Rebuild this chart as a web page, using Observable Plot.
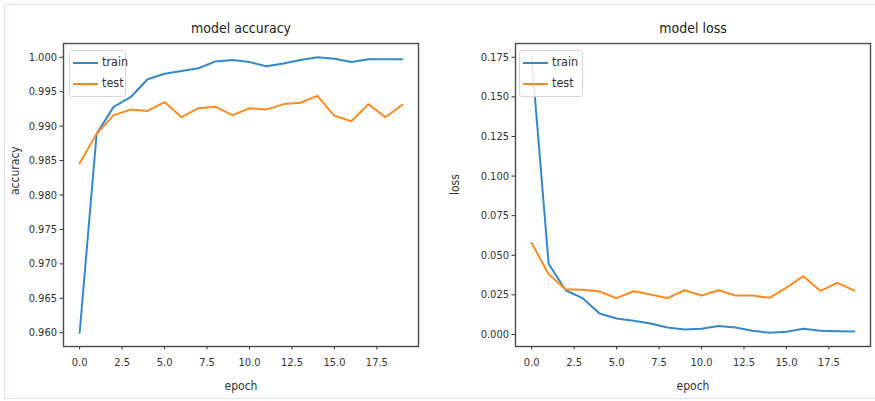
<!DOCTYPE html>
<html>
<head>
<meta charset="utf-8">
<script src="https://cdn.jsdelivr.net/npm/d3@7"></script>
<script src="https://cdn.jsdelivr.net/npm/@observablehq/plot@0.6"></script>
<style>
  html, body { margin: 0; padding: 0; background: #fff; }
  #wrap { position: relative; width: 875px; height: 401px; overflow: hidden;
          font-family: "DejaVu Sans Condensed", "DejaVu Sans", sans-serif; }
  #border { position: absolute; left: 4px; top: 4px; width: 880px; height: 395px;
            border: 1.5px solid #dbe3f4; box-sizing: border-box; }
  .panel { position: absolute; top: 0; }
  .legend { position: absolute; background: rgba(255,255,255,0.85); border: 1px solid #d6d6d6;
            border-radius: 3px; font-size: 12.5px; color: #333; padding: 0; box-sizing: border-box; }
  .legend .item { position: absolute; left: 0; height: 14px; line-height: 14px; white-space: nowrap; }
  .legend .sw { position: absolute; top: 6px; height: 2px; width: 25px; }
  .legend .lb { position: absolute; left: 32px; top: -1px; }
</style>
</head>
<body>
<div id="wrap">
  <div id="border"></div>
</div>
<script>
const epochs = d3.range(20);
const accTrain = [0.9600, 0.9889, 0.9928, 0.9942, 0.9968, 0.9976, 0.9980, 0.9984, 0.9994, 0.9996,
                  0.9993, 0.9987, 0.9991, 0.9996, 1.0000, 0.9998, 0.9993, 0.9997, 0.9997, 0.9997];
const accTest  = [0.9846, 0.9889, 0.9916, 0.9924, 0.9922, 0.9935, 0.9913, 0.9926, 0.9928, 0.9916,
                  0.9926, 0.9924, 0.9932, 0.9934, 0.9944, 0.9915, 0.9907, 0.9932, 0.9913, 0.9931];
const lossTrain = [0.1750, 0.0447, 0.0279, 0.0229, 0.0132, 0.0101, 0.0086, 0.0069, 0.0044, 0.0032,
                   0.0036, 0.0053, 0.0044, 0.0023, 0.0011, 0.0017, 0.0036, 0.0023, 0.0021, 0.0019];
const lossTest  = [0.0578, 0.0380, 0.0286, 0.0282, 0.0271, 0.0229, 0.0273, 0.0252, 0.0229, 0.0279,
                   0.0246, 0.0279, 0.0246, 0.0246, 0.0231, 0.0296, 0.0368, 0.0275, 0.0326, 0.0277];
const xTicks = [0, 2.5, 5, 7.5, 10, 12.5, 15, 17.5];
const accTicks = [0.960, 0.965, 0.970, 0.975, 0.980, 0.985, 0.990, 0.995, 1.000];
const lossTicks = [0, 0.025, 0.05, 0.075, 0.1, 0.125, 0.15, 0.175];
const seriesNames = ["train", "test"];
const colors = ["#3488c8", "#ff8a20"];

function pad(vals) {
  const lo = d3.min(vals), hi = d3.max(vals), m = (hi - lo) * 0.05;
  return [lo - m, hi + m];
}

function panel({left, width, ml, mr, title, ylabel, train, test, yTicks}) {
  const rows = [];
  epochs.forEach((e, i) => {
    rows.push({epoch: e, value: train[i], series: "train"});
    rows.push({epoch: e, value: test[i], series: "test"});
  });
  const plot = Plot.plot({
    width, height: 401,
    marginLeft: ml, marginRight: mr, marginTop: 43, marginBottom: 55,
    style: {fontFamily: '"DejaVu Sans Condensed", "DejaVu Sans", sans-serif', fontSize: "11px", color: "#333", background: "transparent"},
    x: {domain: pad(epochs), ticks: xTicks, tickFormat: d3.format(".1f"), tickSize: 3.5, tickPadding: 8, label: null},
    y: {domain: pad([...train, ...test]), ticks: yTicks, tickFormat: d3.format(".3f"), tickSize: 3.5, tickPadding: 3, label: null},
    color: {domain: seriesNames, range: colors},
    marks: [
      Plot.line(rows, {x: "epoch", y: "value", z: "series", stroke: "series", strokeWidth: 2}),
      Plot.frame({stroke: "#4a4a4a", strokeWidth: 1.4}),
      Plot.text([title], {frameAnchor: "top", dy: -20, fontSize: 14, fill: "#222"}),
      Plot.text(["epoch"], {frameAnchor: "bottom", dy: 43, fontSize: 12, fill: "#333"}),
      Plot.text([ylabel], {frameAnchor: "left", dx: -(ml - 15), rotate: -90, fontSize: 12, fill: "#333"})
    ]
  });
  const div = document.createElement("div");
  div.className = "panel";
  div.style.left = left + "px";
  div.appendChild(plot);
  document.getElementById("wrap").appendChild(div);
}

function legend(left, top, w) {
  const lg = document.createElement("div");
  lg.className = "legend";
  Object.assign(lg.style, {left: left + "px", top: top + "px", width: w + "px", height: "47px"});
  seriesNames.forEach((s, i) => {
    const it = document.createElement("div");
    it.className = "item";
    it.style.top = (5 + i * 21) + "px";
    it.innerHTML = `<span class="sw" style="left:3px;background:${colors[i]}"></span><span class="lb">${s}</span>`;
    lg.appendChild(it);
  });
  document.getElementById("wrap").appendChild(lg);
}

panel({left: 0, width: 440, ml: 63, mr: 22, title: "model accuracy", ylabel: "accuracy",
       train: accTrain, test: accTest, yTicks: accTicks});
panel({left: 440, width: 435, ml: 75, mr: 5, title: "model loss", ylabel: "loss",
       train: lossTrain, test: lossTest, yTicks: lossTicks});
legend(69, 50, 57);
legend(519, 50, 64);
</script>
</body>
</html>
